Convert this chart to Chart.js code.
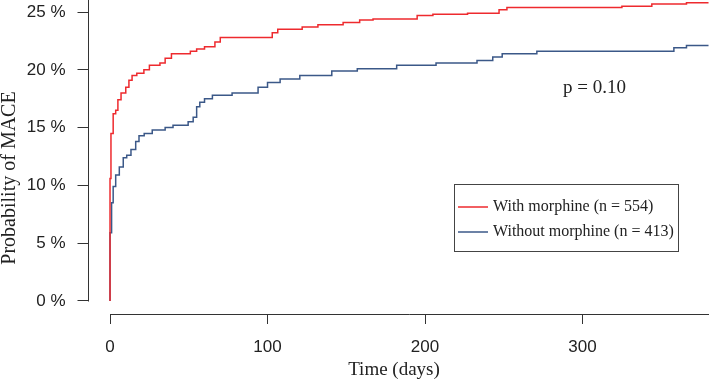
<!DOCTYPE html>
<html>
<head>
<meta charset="utf-8">
<script src="https://cdn.jsdelivr.net/npm/chart.js@4"></script>
<style>
  html, body { margin: 0; padding: 0; background: #fff; }
  #wrap { width: 709px; height: 381px; }
</style>
</head>
<body>
<div id="wrap"><canvas id="km_chart" width="709" height="381"></canvas></div>
<script>
// Kaplan-Meier style cumulative incidence
var withDays = [0, 0, 0.6, 2, 3.6, 5, 7, 10, 12, 14, 17, 21.5, 25, 31.7, 35, 39, 51, 55, 60, 66.6, 70,
                103, 106.5, 122, 132, 148, 158.5, 167, 195, 205, 227, 247, 252, 325, 344, 366, 380];
var withProb = [0, 10.6, 14.5, 16.2, 16.5, 17.4, 18.0, 18.5, 19.1, 19.5, 19.7, 20.0, 20.4, 20.6, 21.0, 21.4, 21.6, 21.8, 22.0, 22.4, 22.8,
                23.2, 23.5, 23.7, 23.9, 24.1, 24.3, 24.4, 24.7, 24.8, 24.9, 25.2, 25.4, 25.5, 25.7, 25.8, 25.8];

var withoutDays = [0, 0, 1, 2, 3.6, 5.9, 8.4, 10.6, 13.3, 16.3, 18.4, 21.7, 26.8, 35, 40, 49.6, 52.8, 55, 57, 60, 65,
                   77.5, 94, 100, 108, 120.5, 140.8, 157, 182, 207, 233, 243, 249, 271, 358, 366, 380];
var withoutProb = [0, 5.9, 8.5, 9.9, 10.9, 11.6, 12.4, 12.6, 13.1, 13.8, 14.3, 14.5, 14.8, 15.0, 15.2, 15.5, 15.9, 16.8, 17.2, 17.5, 17.8,
                   18.0, 18.5, 18.9, 19.2, 19.5, 19.9, 20.1, 20.4, 20.6, 20.8, 21.1, 21.4, 21.6, 21.9, 22.1, 22.1];

var seriesLabels = ['With morphine (n = 554)', 'Without morphine (n = 413)'];
var xTicks = [0, 100, 200, 300];
var yTicks = [0, 5, 10, 15, 20, 25];
var pText = 'p = 0.10';

var colors = ['#ee2a2e', '#3b5888'];

function toPoints(xs, ys) {
  var pts = [];
  for (var i = 0; i < xs.length; ++i) pts.push({x: xs[i], y: ys[i]});
  return pts;
}

var serif = '"Liberation Serif", "Times New Roman", serif';
var sans = '"Liberation Sans", Arial, sans-serif';

// base-R look: detached axes, titles, p value and boxed legend
var extras = {
  id: 'extras',
  afterDraw: function (chart) {
    var ctx = chart.ctx;
    var xs = chart.scales.x, ys = chart.scales.y;
    ctx.save();
    ctx.strokeStyle = '#333';
    ctx.lineWidth = 1;
    // y axis line
    var ax = Math.round(chart.chartArea.left) + 0.5;
    ctx.beginPath();
    ctx.moveTo(ax, Math.round(ys.getPixelForValue(0)) + 0.5);
    ctx.lineTo(ax, 0);
    ctx.stroke();
    // x axis line
    var ay = Math.round(chart.chartArea.bottom) + 0.5;
    ctx.beginPath();
    ctx.moveTo(Math.round(xs.getPixelForValue(0)) + 0.5, ay);
    ctx.lineTo(chart.width, ay);
    ctx.stroke();

    ctx.fillStyle = '#222';
    ctx.font = '19px ' + serif;
    ctx.textAlign = 'center';
    ctx.textBaseline = 'middle';
    ctx.fillText('Time (days)', 394, 370);

    ctx.save();
    ctx.font = '20px ' + serif;
    ctx.translate(10, 178);
    ctx.rotate(-Math.PI / 2);
    ctx.fillText('Probability of MACE', 0, 0);
    ctx.restore();

    ctx.textAlign = 'left';
    ctx.textBaseline = 'alphabetic';
    ctx.fillText(pText, 563, 93);

    // legend
    ctx.strokeStyle = '#444';
    ctx.strokeRect(454.5, 184.5, 224, 67);
    ctx.font = '16px ' + serif;
    ctx.textBaseline = 'middle';
    var rows = [207, 232];
    chart.data.datasets.forEach(function (ds, i) {
      ctx.strokeStyle = ds.borderColor;
      ctx.lineWidth = 1.5;
      ctx.beginPath();
      ctx.moveTo(458, rows[i]);
      ctx.lineTo(488, rows[i]);
      ctx.stroke();
      ctx.fillStyle = '#222';
      ctx.fillText(ds.label, 493, rows[i]);
    });
    ctx.restore();
  }
};

var ctx = document.getElementById('km_chart').getContext('2d');
var chartInstance = new Chart(ctx, {
  type: 'line',
  data: {
    datasets: [
      {
        label: seriesLabels[0],
        data: toPoints(withDays, withProb),
        borderColor: colors[0],
        borderWidth: 1.5,
        pointRadius: 0,
        stepped: 'before',
        fill: false
      },
      {
        label: seriesLabels[1],
        data: toPoints(withoutDays, withoutProb),
        borderColor: colors[1],
        borderWidth: 1.5,
        pointRadius: 0,
        stepped: 'before',
        fill: false
      }
    ]
  },
  options: {
    responsive: false,
    maintainAspectRatio: false,
    animation: false,
    layout: { padding: 0 },
    plugins: {
      legend: { display: false },
      tooltip: { enabled: false }
    },
    scales: {
      x: {
        type: 'linear',
        min: -14.3,
        max: 380.3,
        afterBuildTicks: function (scale) {
          scale.ticks = xTicks.map(function (v) { return {value: v}; });
        },
        afterFit: function (scale) {
          scale.height = 67;
          scale.paddingLeft = 0;
          scale.paddingRight = 0;
        },
        grid: { drawOnChartArea: false, drawTicks: true, tickLength: 10, color: '#333' },
        border: { display: false },
        ticks: {
          padding: 13,
          maxRotation: 0,
          color: '#222',
          font: { family: sans, size: 17 }
        }
      },
      y: {
        min: -1.125,
        max: 26.04,
        afterBuildTicks: function (scale) {
          scale.ticks = yTicks.map(function (v) { return {value: v}; });
        },
        afterFit: function (scale) {
          scale.width = 87.5;
          scale.paddingTop = 0;
          scale.paddingBottom = 0;
        },
        grid: { drawOnChartArea: false, drawTicks: true, tickLength: 10, color: '#333' },
        border: { display: false },
        ticks: {
          padding: 12,
          color: '#222',
          font: { family: sans, size: 17 },
          callback: function (v) { return v + ' %'; }
        }
      }
    }
  },
  plugins: [extras]
});
</script>
</body>
</html>
